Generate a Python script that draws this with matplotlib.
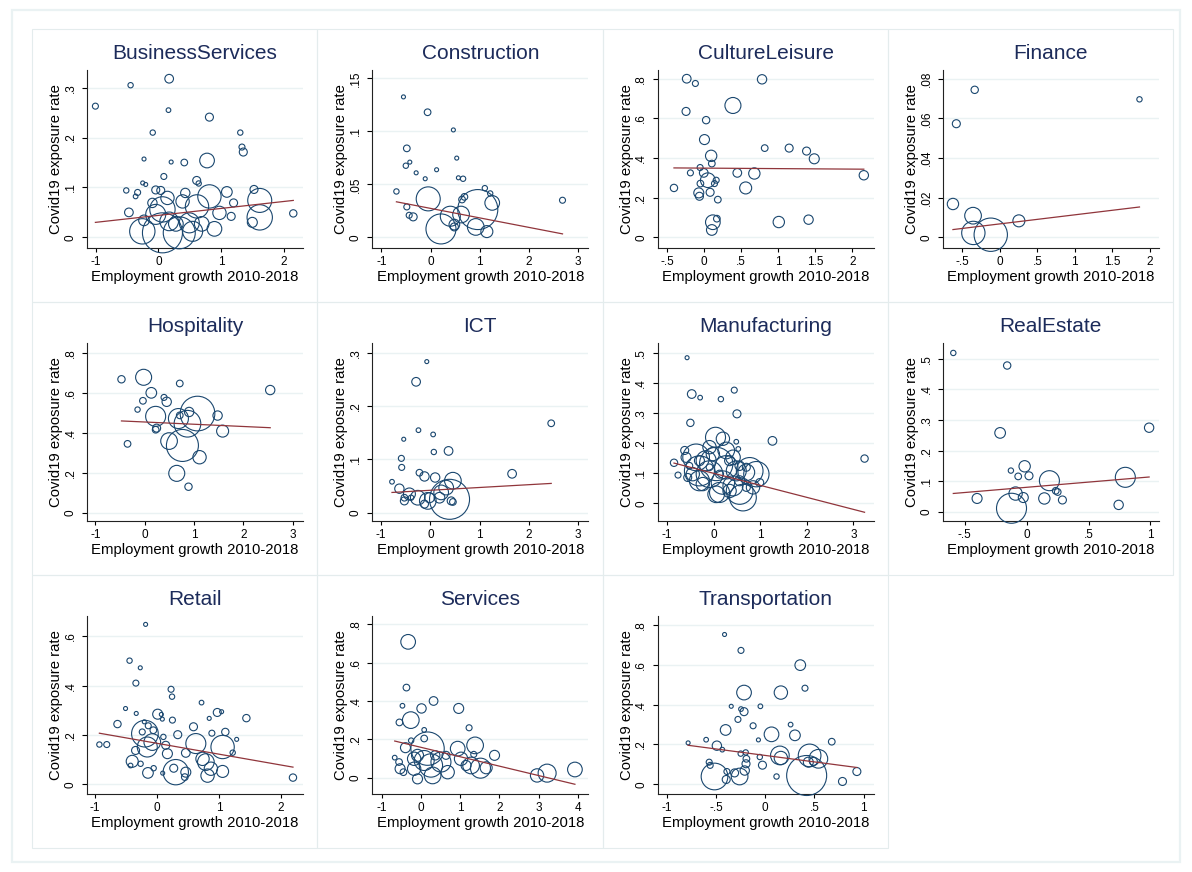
import matplotlib
matplotlib.use("Agg")
import matplotlib.pyplot as plt
from matplotlib.patches import Rectangle
import numpy as np

plt.rcParams['font.family'] = ['Liberation Sans', 'DejaVu Sans']

# industry names, one per panel
titles = ['BusinessServices', 'Construction', 'CultureLeisure', 'Finance',
          'Hospitality', 'ICT', 'Manufacturing', 'RealEstate',
          'Retail', 'Services', 'Transportation']

# --- BusinessServices ---
bs_x = [-1.005, -0.444, 0.171, 0.160, 0.813, -0.091, 1.305, 1.332, 1.353, -0.230,
        0.203, 0.412, 0.775, 0.086, 0.610, 0.642, -0.251, -0.203, -0.513, -0.332,
        -0.364, -0.043, 0.037, 0.428, 0.813, 1.091, 1.524, 1.198, 1.615, 0.144,
        -0.096, 0.385, 0.615, -0.471, 0.973, 1.160, 2.150, 1.615, 1.497, 0.064,
        -0.043, -0.230, 0.171, 0.278, 0.492, 0.690, 0.893, -0.257, 0.064, 0.332, 0.545]
bs_y = [0.263, 0.305, 0.318, 0.255, 0.241, 0.210, 0.210, 0.181, 0.171, 0.157,
        0.151, 0.150, 0.154, 0.122, 0.114, 0.108, 0.109, 0.106, 0.094, 0.090,
        0.082, 0.095, 0.094, 0.089, 0.082, 0.091, 0.096, 0.069, 0.074, 0.079,
        0.069, 0.072, 0.062, 0.050, 0.049, 0.042, 0.048, 0.040, 0.030, 0.056,
        0.046, 0.034, 0.032, 0.027, 0.029, 0.027, 0.017, 0.012, 0.009, 0.009, 0.012]
bs_w = [81, 64, 169, 49, 144, 64, 64, 81, 144, 36,
        36, 100, 484, 81, 144, 64, 36, 36, 64, 81,
        49, 144, 144, 196, 1225, 256, 144, 144, 1296, 400,
        196, 400, 1225, 169, 400, 144, 121, 1444, 225, 1444,
        900, 256, 784, 484, 900, 484, 484, 1444, 3600, 2304, 900]

# --- Construction ---
con_x = [-0.551, -0.061, 0.463, -0.483, -0.503, -0.422, 0.531, -0.293, 0.122, -0.109,
         0.565, 0.660, -0.694, 1.102, 1.211, 2.680, -0.048, 0.687, 0.639, -0.483,
         -0.435, -0.354, 0.401, 0.619, 1.252, 0.959, 0.483, 0.483, 0.211, 0.918, 1.143]
con_y = [0.1326, 0.1181, 0.1014, 0.0840, 0.0676, 0.0710, 0.0748, 0.0609, 0.0638, 0.0553,
         0.0562, 0.0553, 0.0433, 0.0464, 0.0414, 0.0350, 0.0363, 0.0382, 0.0357, 0.0287,
         0.0208, 0.0193, 0.0199, 0.0215, 0.0325, 0.0262, 0.0120, 0.0098, 0.0079, 0.0098, 0.0054]
con_w = [36, 100, 36, 100, 64, 36, 36, 36, 36, 36,
         36, 64, 64, 64, 64, 81, 1296, 100, 100, 81,
         81, 144, 900, 625, 484, 3600, 256, 144, 2025, 625, 324]

# --- CultureLeisure ---
cul_x = [-0.235, -0.118, 0.782, 0.389, -0.244, 0.027, 0.005, 0.818, 1.148, 1.383,
         1.487, 0.095, 0.104, -0.054, -0.185, -0.005, 0.448, 0.678, 2.156, 0.050,
         0.163, -0.050, 0.140, -0.407, 0.561, -0.072, 0.081, -0.063, 0.185, 0.118,
         0.172, 0.104, 1.008, 1.410]
cul_y = [0.800, 0.776, 0.797, 0.665, 0.635, 0.591, 0.493, 0.450, 0.450, 0.435,
         0.396, 0.411, 0.372, 0.352, 0.325, 0.325, 0.325, 0.322, 0.313, 0.288,
         0.288, 0.271, 0.271, 0.249, 0.249, 0.224, 0.227, 0.207, 0.190, 0.076,
         0.094, 0.037, 0.077, 0.089]
cul_w = [169, 81, 196, 576, 144, 121, 225, 100, 144, 144,
         225, 289, 100, 81, 81, 169, 169, 289, 196, 484,
         81, 100, 81, 121, 324, 225, 144, 144, 100, 484,
         100, 256, 289, 196]

# --- Finance ---
fin_x = [-0.335, 1.862, -0.580, -0.625, -0.357, -0.353, -0.121, 0.254]
fin_y = [0.0744, 0.0696, 0.0573, 0.0168, 0.0109, 0.0022, 0.0013, 0.0083]
fin_w = [121, 64, 144, 289, 625, 1225, 2500, 324]

# --- Hospitality ---
hos_x = [-0.469, -0.020, 0.713, 0.136, 2.547, -0.034, 0.394, 0.448, -0.143, 0.224,
         1.073, 0.903, 0.713, 0.686, 1.480, 0.869, 0.244, 0.224, 1.582, -0.346,
         0.496, 0.767, 1.114, 0.652, 0.890]
hos_y = [0.669, 0.679, 0.648, 0.601, 0.615, 0.561, 0.578, 0.556, 0.517, 0.483,
         0.497, 0.505, 0.488, 0.472, 0.487, 0.446, 0.424, 0.416, 0.409, 0.345,
         0.359, 0.337, 0.278, 0.197, 0.130]
hos_w = [121, 576, 100, 256, 196, 100, 81, 196, 64, 900,
         2704, 196, 100, 900, 196, 1600, 144, 100, 324, 100,
         625, 2304, 400, 576, 121]

# --- ICT ---
ict_x = [-0.075, -0.292, 2.451, -0.244, 0.054, -0.543, 0.367, 0.068, -0.591, -0.584,
         1.657, -0.781, -0.224, -0.122, 0.095, 0.455, -0.631, 0.319, -0.428, -0.258,
         -0.530, -0.054, -0.122, 0.217, 0.421, 0.455, 0.387, -0.530, -0.394, 0.183, -0.020]
ict_y = [0.284, 0.246, 0.168, 0.155, 0.147, 0.138, 0.116, 0.114, 0.102, 0.085,
         0.073, 0.058, 0.075, 0.068, 0.066, 0.060, 0.045, 0.047, 0.035, 0.028,
         0.022, 0.022, 0.016, 0.038, 0.022, 0.020, 0.025, 0.028, 0.028, 0.028, 0.028]
ict_w = [36, 169, 100, 49, 49, 36, 169, 64, 81, 81,
         169, 49, 100, 196, 196, 625, 196, 484, 324, 484,
         144, 625, 144, 484, 144, 100, 3600, 100, 64, 256, 225]

# --- Manufacturing ---
man_x = [-0.567, -0.467, -0.287, 0.445, 0.158, 0.503, -0.496, 1.264, 3.239, 0.488,
         0.531, 0.043, 0.201, -0.618, -0.847, -0.761, -0.373, -0.158, 0.057, -0.302,
         -0.086, 0.273, 0.488, 0.704, 0.776, 0.201, 0.417, 0.560, 0.129, 0.847,
         -0.445, -0.230, 0.345, -0.014, 0.560, 0.704, -0.302, 0.129, -0.086, 0.345,
         -0.517, 0.704, 0.991, 0.919, 0.632, -0.302, -0.589, 0.273, -0.086, 0.417,
         0.057, -0.553, 0.560]
man_y = [0.485, 0.364, 0.352, 0.377, 0.347, 0.298, 0.268, 0.208, 0.149, 0.205,
         0.181, 0.220, 0.215, 0.176, 0.135, 0.094, 0.153, 0.142, 0.131, 0.108,
         0.097, 0.120, 0.108, 0.103, 0.108, 0.069, 0.058, 0.041, 0.036, 0.053,
         0.097, 0.064, 0.142, 0.164, 0.075, 0.053, 0.142, 0.097, 0.120, 0.041,
         0.125, 0.120, 0.069, 0.097, 0.019, 0.075, 0.153, 0.176, 0.187, 0.153,
         0.030, 0.086, 0.125]
man_w = [36, 169, 49, 81, 64, 144, 121, 169, 121, 49,
         49, 900, 400, 144, 121, 81, 1600, 900, 2500, 2025,
         1600, 1225, 900, 625, 1600, 1225, 900, 1600, 900, 400,
         400, 400, 225, 400, 225, 144, 225, 144, 100, 400,
         100, 144, 144, 1444, 1600, 900, 225, 625, 400, 484,
         625, 144, 196]

# --- RealEstate ---
re_x = [-0.592, -0.157, -0.214, 0.989, -0.127, -0.016, -0.068, 0.019, 0.184, 0.797,
        -0.089, -0.027, 0.235, 0.251, -0.400, 0.143, 0.289, -0.122, 0.743]
re_y = [0.519, 0.478, 0.258, 0.275, 0.135, 0.149, 0.116, 0.118, 0.102, 0.113,
        0.060, 0.047, 0.069, 0.065, 0.044, 0.044, 0.039, 0.012, 0.023]
re_w = [64, 121, 256, 196, 64, 289, 100, 144, 900, 900,
        400, 225, 100, 100, 225, 289, 144, 2025, 196]

# --- Retail ---
ret_x = [-0.184, -0.443, -0.270, -0.341, 0.227, 0.243, 0.719, -0.508, 1.443, 0.973,
         1.043, 0.011, 0.070, 0.086, 0.249, 0.843, -0.335, -0.638, -0.205, -0.141,
         0.589, -0.195, -0.238, -0.059, 0.886, 1.103, 0.335, 0.103, -0.930, -0.811,
         1.286, 0.627, 1.059, -0.076, -0.157, -0.346, 0.168, 0.465, 1.222, -0.400,
         0.141, 0.789, 0.735, 0.303, 0.870, 1.059, 0.816, 0.465, 0.449, -0.146,
         0.270, -0.054, 0.092, -0.427, -0.265, 2.195]
ret_y = [0.648, 0.501, 0.472, 0.410, 0.385, 0.355, 0.331, 0.307, 0.268, 0.291,
         0.294, 0.284, 0.283, 0.264, 0.260, 0.267, 0.287, 0.244, 0.253, 0.237,
         0.233, 0.205, 0.212, 0.219, 0.207, 0.212, 0.201, 0.192, 0.161, 0.161,
         0.182, 0.165, 0.151, 0.171, 0.151, 0.137, 0.124, 0.127, 0.128, 0.093,
         0.158, 0.090, 0.103, 0.049, 0.063, 0.052, 0.035, 0.049, 0.029, 0.046,
         0.065, 0.065, 0.045, 0.076, 0.083, 0.027]
ret_w = [36, 64, 36, 81, 81, 64, 49, 36, 121, 144,
         36, 225, 36, 36, 81, 36, 36, 121, 36, 81,
         144, 1600, 81, 100, 81, 121, 144, 64, 64, 81,
         36, 900, 1225, 625, 900, 144, 225, 169, 64, 324,
         144, 625, 400, 1444, 400, 324, 400, 225, 100, 256,
         144, 64, 36, 49, 64, 121]

# --- Services ---
ser_x = [-0.324, -0.367, 0.324, -0.469, 0.017, 0.964, -0.256, -0.546, 1.229, 0.085,
         0.085, -0.247, -0.392, 0.171, 0.939, 1.382, 1.877, 1.348, -0.666, -0.555,
         -0.171, 0.085, 0.512, 1.024, 1.280, 1.519, 1.664, -0.529, -0.444, -0.171,
         -0.085, 0.299, 0.683, 2.961, 3.217, 3.925, 0.256, -0.085, 0.367, 0.640, 1.152]
ser_y = [0.709, 0.470, 0.400, 0.375, 0.361, 0.361, 0.300, 0.288, 0.260, 0.249,
         0.204, 0.193, 0.156, 0.151, 0.151, 0.168, 0.116, 0.121, 0.104, 0.081,
         0.098, 0.089, 0.081, 0.098, 0.063, 0.049, 0.051, 0.046, 0.028, 0.046,
         -0.007, 0.011, 0.028, 0.011, 0.023, 0.042, 0.063, 0.116, 0.116, 0.116, 0.063]
ser_w = [484, 100, 169, 49, 196, 225, 625, 100, 81, 49,
         100, 64, 225, 2500, 484, 625, 225, 81, 49, 100,
         400, 900, 900, 400, 625, 900, 324, 225, 100, 400,
         225, 625, 400, 400, 729, 484, 1225, 324, 196, 144, 225]

# --- Transportation ---
tra_x = [-0.412, -0.245, 0.357, 0.405, -0.214, 0.160, -0.344, -0.048, -0.245, -0.214,
         -0.276, -0.122, 0.259, -0.401, 0.065, 0.303, -0.782, -0.599, -0.068, 0.677,
         -0.490, -0.435, -0.248, -0.197, 0.150, 0.160, -0.054, -0.190, 0.452, 0.541,
         -0.568, -0.558, -0.194, -0.027, 0.439, 0.490, -0.388, -0.310, -0.207, 0.116,
         -0.514, -0.395, -0.259, 0.422, 0.786, 0.932]
tra_y = [0.753, 0.673, 0.599, 0.483, 0.461, 0.461, 0.392, 0.392, 0.378, 0.365,
         0.326, 0.294, 0.300, 0.273, 0.251, 0.246, 0.208, 0.224, 0.223, 0.214,
         0.194, 0.174, 0.154, 0.160, 0.145, 0.132, 0.137, 0.128, 0.145, 0.128,
         0.111, 0.095, 0.103, 0.096, 0.111, 0.115, 0.064, 0.057, 0.069, 0.039,
         0.039, 0.024, 0.039, 0.044, 0.014, 0.064]
tra_w = [36, 81, 256, 81, 484, 400, 36, 49, 49, 144,
         81, 81, 49, 256, 484, 256, 36, 49, 36, 100,
         196, 49, 64, 64, 784, 400, 64, 100, 1156, 784,
         81, 81, 144, 144, 225, 144, 81, 144, 196, 64,
         1600, 144, 625, 3600, 144, 144]

# weighted linear fit: slope and intercept per panel
fit_slope = [0.01395, -0.00898, -0.0025, 0.00458, -0.01127, 0.00526,
             -0.0401, 0.0340, -0.0440, -0.0492, -0.0651]
fit_icept = [0.044, 0.0273, 0.349, 0.00676, 0.4547, 0.0420,
             0.100, 0.0804, 0.166, 0.158, 0.145]

# axis ticks per panel
x_ticks = [[-1, 0, 1, 2], [-1, 0, 1, 2, 3], [-.5, 0, .5, 1, 1.5, 2], [-.5, 0, .5, 1, 1.5, 2],
           [-1, 0, 1, 2, 3], [-1, 0, 1, 2, 3], [-1, 0, 1, 2, 3], [-.5, 0, .5, 1],
           [-1, 0, 1, 2], [-1, 0, 1, 2, 3, 4], [-1, -.5, 0, .5, 1]]
y_ticks = [[0, .1, .2, .3], [0, .05, .1, .15], [0, .2, .4, .6, .8], [0, .02, .04, .06, .08],
           [0, .2, .4, .6, .8], [0, .1, .2, .3], [0, .1, .2, .3, .4, .5], [0, .1, .2, .3, .4, .5],
           [0, .2, .4, .6], [0, .2, .4, .6, .8], [0, .2, .4, .6, .8]]

xs = [bs_x, con_x, cul_x, fin_x, hos_x, ict_x, man_x, re_x, ret_x, ser_x, tra_x]
ys = [bs_y, con_y, cul_y, fin_y, hos_y, ict_y, man_y, re_y, ret_y, ser_y, tra_y]
ws = [bs_w, con_w, cul_w, fin_w, hos_w, ict_w, man_w, re_w, ret_w, ser_w, tra_w]

# plot ranges (Stata pads the data range a little)
x_lims = [(-1.139, 2.305), (-1.184, 3.204), (-0.628, 2.288), (-0.759, 2.121),
          (-1.168, 3.212), (-1.181, 3.204), (-1.199, 3.433), (-0.676, 1.068),
          (-1.130, 2.357), (-1.237, 4.266), (-1.092, 1.102)]
y_lims = [(-0.0214, 0.3355), (-0.0101, 0.158), (-0.054, 0.844), (-0.0054, 0.0844),
          (-0.042, 0.851), (-0.0158, 0.319), (-0.059, 0.534), (-0.0296, 0.5515),
          (-0.0395, 0.682), (-0.086, 0.844), (-0.049, 0.846)]


def stata_fmt(v):
    s = '%g' % v
    if s.startswith('0.'):
        s = s[1:]
    elif s.startswith('-0.'):
        s = '-' + s[2:]
    return s


W, H = 1192, 872
fig = plt.figure(figsize=(W / 100, H / 100), dpi=100)
fig.patch.set_facecolor('white')

navy = '#1a476f'
maroon = '#90353b'
grid_c = '#eaf2f3'

# outer border of the combined graph
fig.add_artist(Rectangle((12 / W, 1 - 862 / H), 1168 / W, 852 / H, transform=fig.transFigure,
                         fill=False, edgecolor=grid_c, linewidth=1.6))

pw, ph = 285.3, 273
for i in range(len(titles)):
    r, c = divmod(i, 4)
    Lp = 32 + c * pw
    Tp = 29 + r * ph
    fig.add_artist(Rectangle((Lp / W, 1 - (Tp + ph) / H), pw / W, ph / H, transform=fig.transFigure,
                             fill=False, edgecolor='#e4eced', linewidth=0.8))
    ax = fig.add_axes([(Lp + 55) / W, 1 - (Tp + 41 + 178) / H, 216 / W, 178 / H])
    x = np.array(xs[i])
    y = np.array(ys[i])
    w = np.array(ws[i])
    ax.scatter(x, y, s=0.2304 * w, facecolors='none', edgecolors=navy, linewidths=0.8,
               clip_on=False, zorder=3)
    xx = np.array([x.min(), x.max()])
    ax.plot(xx, fit_icept[i] + fit_slope[i] * xx, color=maroon, lw=0.9, zorder=4)

    ax.set_xlim(*x_lims[i])
    ax.set_ylim(*y_lims[i])
    ax.set_xticks(x_ticks[i])
    ax.set_xticklabels([stata_fmt(v) for v in x_ticks[i]])
    ax.set_yticks(y_ticks[i])
    ax.set_yticklabels([stata_fmt(v) for v in y_ticks[i]], rotation=90, va='center')
    ax.grid(axis='y', color=grid_c, lw=1, zorder=0)
    ax.set_axisbelow(True)
    for s in ['top', 'right']:
        ax.spines[s].set_visible(False)
    for s in ['left', 'bottom']:
        ax.spines[s].set_linewidth(0.8)
        ax.spines[s].set_color('#222222')
    ax.tick_params(axis='x', length=3, width=0.8, pad=2.5, labelsize=8.5)
    ax.tick_params(axis='y', length=3.5, width=0.8, pad=4, labelsize=8.5)
    ax.set_title(titles[i], fontsize=15, color='#1c2b5a', pad=8)
    ax.set_xlabel('Employment growth 2010-2018', fontsize=10.7)
    ax.set_ylabel('Covid19 exposure rate', fontsize=10.7)
    ax.xaxis.set_label_coords(0.5, -22 / 178)
    ax.yaxis.set_label_coords(-24 / 216, 0.5)

fig.savefig('out.png', dpi=100)
